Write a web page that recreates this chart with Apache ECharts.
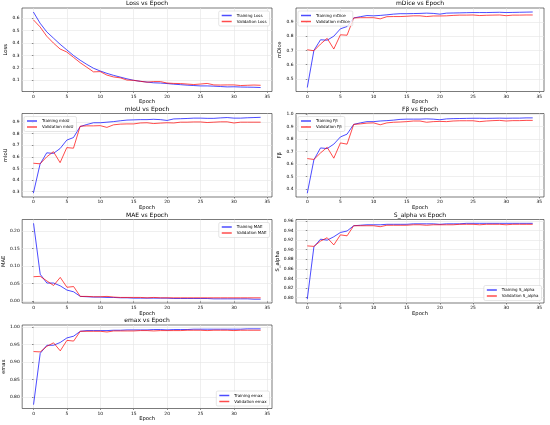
<!DOCTYPE html>
<html>
<head>
<meta charset="utf-8">
<script src="https://cdn.jsdelivr.net/npm/echarts@6/dist/echarts.min.js"></script>
<style>
html,body{margin:0;padding:0;background:#fff;}
#chart_main{width:550px;height:425px;}
</style>
</head>
<body>
<div id="chart_main"></div>
<script type="text/javascript">
// epochs on the x axis
var epochs = [0,1,2,3,4,5,6,7,8,9,10,11,12,13,14,15,16,17,18,19,20,21,22,23,24,25,26,27,28,29,30,31,32,33,34];
var xTicks = [0,5,10,15,20,25,30,35];

var trainLoss = [0.650,0.560,0.490,0.440,0.390,0.345,0.300,0.262,0.228,0.197,0.175,0.156,0.140,0.126,0.112,0.100,0.092,0.086,0.080,0.078,0.074,0.069,0.065,0.061,0.058,0.055,0.055,0.053,0.050,0.047,0.048,0.046,0.045,0.044,0.042];
var valLoss   = [0.587,0.530,0.455,0.400,0.352,0.328,0.285,0.242,0.205,0.168,0.170,0.142,0.127,0.120,0.102,0.100,0.092,0.085,0.090,0.090,0.078,0.075,0.074,0.070,0.066,0.070,0.075,0.063,0.062,0.063,0.063,0.058,0.060,0.062,0.060];

var trainDice = [0.440,0.700,0.775,0.772,0.800,0.852,0.868,0.928,0.937,0.945,0.943,0.946,0.950,0.955,0.958,0.958,0.959,0.960,0.962,0.960,0.955,0.962,0.963,0.964,0.965,0.966,0.966,0.966,0.967,0.968,0.966,0.967,0.968,0.969,0.970];
var valDice   = [0.705,0.698,0.745,0.785,0.710,0.810,0.807,0.928,0.930,0.930,0.930,0.922,0.937,0.938,0.938,0.940,0.943,0.943,0.938,0.942,0.942,0.943,0.946,0.948,0.948,0.949,0.945,0.947,0.948,0.949,0.944,0.948,0.948,0.949,0.949];

var trainIoU = [0.286,0.537,0.635,0.630,0.672,0.745,0.767,0.862,0.880,0.895,0.895,0.900,0.905,0.912,0.918,0.920,0.922,0.922,0.925,0.922,0.915,0.928,0.930,0.932,0.935,0.935,0.933,0.933,0.937,0.940,0.935,0.935,0.938,0.940,0.942];
var valIoU   = [0.545,0.540,0.600,0.645,0.550,0.680,0.675,0.865,0.868,0.868,0.870,0.855,0.877,0.883,0.885,0.885,0.893,0.895,0.888,0.892,0.895,0.893,0.900,0.900,0.902,0.902,0.897,0.900,0.903,0.903,0.893,0.900,0.900,0.900,0.900];

var trainFb = [0.368,0.635,0.730,0.725,0.760,0.818,0.840,0.918,0.930,0.940,0.940,0.945,0.948,0.952,0.958,0.960,0.960,0.960,0.962,0.960,0.955,0.962,0.964,0.965,0.966,0.967,0.967,0.966,0.967,0.968,0.967,0.968,0.968,0.970,0.970];
var valFb   = [0.645,0.638,0.690,0.735,0.648,0.770,0.760,0.918,0.922,0.928,0.930,0.915,0.930,0.935,0.937,0.940,0.945,0.945,0.935,0.940,0.942,0.940,0.945,0.947,0.947,0.947,0.940,0.945,0.948,0.950,0.945,0.948,0.948,0.950,0.950];

var trainMAE = [0.222,0.077,0.052,0.052,0.044,0.032,0.027,0.014,0.013,0.012,0.012,0.011,0.011,0.010,0.010,0.009,0.009,0.009,0.009,0.009,0.009,0.008,0.008,0.008,0.008,0.008,0.008,0.007,0.007,0.007,0.007,0.007,0.007,0.006,0.006];
var valMAE   = [0.070,0.071,0.058,0.045,0.068,0.040,0.042,0.014,0.014,0.013,0.013,0.014,0.012,0.011,0.011,0.011,0.011,0.010,0.011,0.010,0.010,0.010,0.010,0.010,0.010,0.010,0.010,0.010,0.010,0.010,0.010,0.010,0.010,0.010,0.010];

var trainSa = [0.797,0.906,0.922,0.920,0.927,0.936,0.939,0.950,0.951,0.952,0.952,0.952,0.953,0.953,0.953,0.953,0.954,0.954,0.954,0.954,0.953,0.954,0.954,0.954,0.955,0.955,0.955,0.955,0.955,0.955,0.955,0.955,0.955,0.955,0.955];
var valSa   = [0.908,0.907,0.918,0.925,0.910,0.931,0.929,0.950,0.950,0.950,0.950,0.948,0.951,0.951,0.951,0.951,0.952,0.952,0.951,0.952,0.952,0.952,0.952,0.953,0.953,0.953,0.952,0.953,0.953,0.953,0.952,0.953,0.953,0.953,0.953];

var trainEmax = [0.778,0.925,0.948,0.948,0.956,0.969,0.974,0.988,0.990,0.990,0.990,0.990,0.991,0.991,0.992,0.992,0.992,0.992,0.993,0.993,0.992,0.993,0.993,0.993,0.994,0.994,0.994,0.994,0.994,0.994,0.994,0.994,0.995,0.995,0.995];
var valEmax   = [0.930,0.929,0.945,0.955,0.932,0.962,0.960,0.988,0.988,0.988,0.988,0.986,0.989,0.989,0.989,0.989,0.990,0.990,0.989,0.990,0.990,0.990,0.990,0.991,0.991,0.991,0.990,0.991,0.991,0.991,0.990,0.991,0.991,0.991,0.991];

// y tick labels of each subplot
var lossTicks = [0.1,0.2,0.3,0.4,0.5,0.6];
var diceTicks = [0.5,0.6,0.7,0.8,0.9];
var iouTicks  = [0.3,0.4,0.5,0.6,0.7,0.8,0.9];
var fbTicks   = [0.4,0.5,0.6,0.7,0.8,0.9,1.0];
var maeTicks  = [0.00,0.05,0.10,0.15,0.20];
var saTicks   = [0.80,0.82,0.84,0.86,0.88,0.90,0.92,0.94,0.96];
var emaxTicks = [0.80,0.85,0.90,0.95,1.00];

// one entry per subplot: label, train, val, y range, ticks, decimals, legend spot
var panels = [
    {name:'Loss',    tr:trainLoss, va:valLoss, ymin:0.010,  ymax:0.682, ticks:lossTicks, step:0.1,  dec:1, split:7, leg:'ur', col:0, row:0},
    {name:'mDice',   tr:trainDice, va:valDice, ymin:0.412,  ymax:0.998, ticks:diceTicks, step:0.1,  dec:1, split:6, leg:'ul', col:1, row:0},
    {name:'mIoU',    tr:trainIoU,  va:valIoU,  ymin:0.253,  ymax:0.975, ticks:iouTicks,  step:0.1,  dec:1, split:7, leg:'ul', col:0, row:1},
    {name:'F\u03b2', tr:trainFb,   va:valFb,   ymin:0.338,  ymax:1.005, ticks:fbTicks,   step:0.1,  dec:1, split:7, leg:'ul', col:1, row:1},
    {name:'MAE',     tr:trainMAE,  va:valMAE,  ymin:-0.0048,ymax:0.2328,ticks:maeTicks,  step:0.05, dec:2, split:5, leg:'ur', col:0, row:2},
    {name:'S_alpha', tr:trainSa,   va:valSa,   ymin:0.789,  ymax:0.963, ticks:saTicks,   step:0.02, dec:2, split:8, leg:'lr', col:1, row:2},
    {name:'emax',    tr:trainEmax, va:valEmax, ymin:0.767,  ymax:1.006, ticks:emaxTicks, step:0.05, dec:2, split:5, leg:'lr', col:0, row:3}
];

var W = 550, H = 425;
var colLeft = [22, 296], colWidth = [250, 248];
var rowTop = [8, 113.5, 219.5, 325], rowHeight = 83.5;
var font = 'DejaVu Sans';

function onStep(v, step) {
    var k = Math.round(v / step);
    return Math.abs(v - k * step) < step * 1e-4;
}

var grids = [], xAxes = [], yAxes = [], titles = [], legends = [], series = [];
panels.forEach(function (p, i) {
    var left = colLeft[p.col], width = colWidth[p.col], top = rowTop[p.row];
    grids.push({left:left, top:top, width:width, height:rowHeight, show:true,
        borderColor:'#222', borderWidth:0.6, backgroundColor:'transparent'});
    xAxes.push({type:'value', gridIndex:i, min:-1.7, max:35.7, splitNumber:7,
        name:'Epoch', nameLocation:'middle', nameGap:8,
        nameTextStyle:{fontSize:5.2, color:'#000', fontFamily:font},
        axisLine:{show:false},
        axisTick:{show:true, length:1.5, customValues:xTicks, lineStyle:{color:'#222', width:0.5}},
        axisLabel:{fontSize:4.4, color:'#000', fontFamily:font, margin:3,
            formatter:function (v) { return onStep(v, 5) ? String(Math.round(v)) : ''; }},
        splitLine:{show:true, lineStyle:{color:'#e4e4e4', width:0.6}}});
    yAxes.push({type:'value', gridIndex:i, min:p.ymin, max:p.ymax, splitNumber:p.split,
        name:p.name, nameLocation:'middle', nameGap:p.col ? 12 : 11,
        nameTextStyle:{fontSize:5.2, color:'#000', fontFamily:font},
        axisLine:{show:false},
        axisTick:{show:true, length:1.5, customValues:p.ticks, lineStyle:{color:'#222', width:0.5}},
        axisLabel:{fontSize:4.4, color:'#000', fontFamily:font, margin:2.5,
            formatter:function (v) { return onStep(v, p.step) ? v.toFixed(p.dec) : ''; }},
        splitLine:{show:true, lineStyle:{color:'#e4e4e4', width:0.6}}});
    titles.push({text:p.name + ' vs Epoch', left:left + width / 2, top:top - 7.5,
        textAlign:'center', padding:0,
        textStyle:{fontSize:6, fontWeight:'normal', color:'#000', fontFamily:font}});
    var trName = 'Training ' + p.name, vaName = 'Validation ' + p.name;
    var leg = {data:[trName, vaName], orient:'vertical', icon:'rect',
        itemWidth:10, itemHeight:1.5, itemGap:1, padding:[2, 3],
        backgroundColor:'rgba(255,255,255,0.8)', borderColor:'#ccc', borderWidth:0.5, borderRadius:1.5,
        textStyle:{fontSize:4, lineHeight:5, color:'#000', fontFamily:font}};
    if (p.leg === 'ul') { leg.left = left + 2; leg.top = top + 3; }
    else if (p.leg === 'ur') { leg.right = W - left - width + 2.5; leg.top = top + 3; }
    else { leg.right = W - left - width + 2.5; leg.bottom = H - top - rowHeight + 2.5; }
    legends.push(leg);
    series.push({name:trName, type:'line', xAxisIndex:i, yAxisIndex:i, symbol:'none',
        lineStyle:{width:1, color:'rgba(0,0,255,0.7)'}, itemStyle:{color:'rgba(0,0,255,0.7)'},
        data:epochs.map(function (e, k) { return [e, p.tr[k]]; })});
    series.push({name:vaName, type:'line', xAxisIndex:i, yAxisIndex:i, symbol:'none',
        lineStyle:{width:1, color:'rgba(255,0,0,0.7)'}, itemStyle:{color:'rgba(255,0,0,0.7)'},
        data:epochs.map(function (e, k) { return [e, p.va[k]]; })});
});

var myChart = echarts.init(document.getElementById('chart_main'), null, {renderer:'canvas'});
myChart.setOption({
    animation:false,
    backgroundColor:'#fff',
    title:titles,
    legend:legends,
    grid:grids,
    xAxis:xAxes,
    yAxis:yAxes,
    series:series
});
</script>
</body>
</html>
